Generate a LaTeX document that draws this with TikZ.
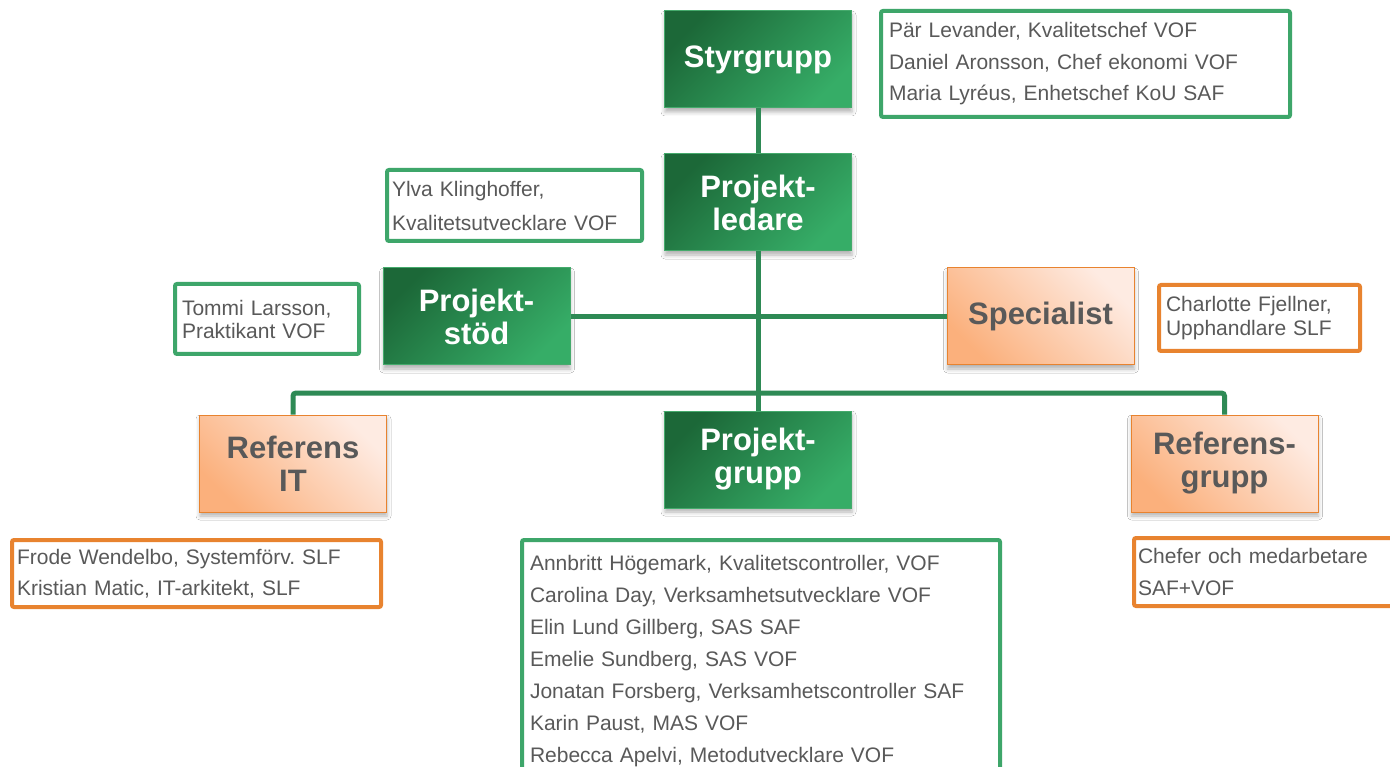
\documentclass[tikz,border=0pt]{standalone}
\usepackage{fontspec}
\setmainfont{Liberation Sans}
\usetikzlibrary{shadows.blur}
\definecolor{gdark}{HTML}{1C6838}
\definecolor{glight}{HTML}{36AD67}
\definecolor{gborder}{HTML}{45AA6C}
\definecolor{olight}{HTML}{FEEBE2}
\definecolor{odark}{HTML}{FBB07C}
\definecolor{oborder}{HTML}{E8832F}
\definecolor{infog}{HTML}{3EA66A}
\definecolor{txtgray}{HTML}{595959}
\definecolor{conn}{HTML}{2E8A55}
\frenchspacing
\begin{document}
\begin{tikzpicture}[x=1pt,y=-1pt,
  titlebox/.style={minimum width=187, minimum height=97, align=center,
    font=\bfseries\fontsize{31}{33}\selectfont, line width=1pt,
    blur shadow={shadow xshift=0.5pt, shadow yshift=-4pt, shadow blur radius=4pt, shadow opacity=30}},
  gbox/.style={titlebox, draw=gborder, top color=gdark, bottom color=glight, shading angle=45, text=white},
  obox/.style={titlebox, draw=oborder, top color=olight, bottom color=odark, shading angle=-45, text=txtgray},
  info/.style={line width=4pt, rounded corners=2pt, fill=white, align=left, inner ysep=0pt, text=txtgray},
  ginfo/.style={info, draw=infog},
  oinfo/.style={info, draw=oborder},
  connector/.style={draw=conn, line width=5pt}]
\useasboundingbox (0,0) rectangle (1390,767);
\fill[white] (0,0) rectangle (1390,767);

% title boxes
\node[gbox] (sty) at (758,59.5) {Styrgrupp};
\node[gbox] (pl) at (758,202.5) {Projekt-\\ledare};
\node[gbox] (ps) at (476.5,316.5) {Projekt-\\stöd};
\node[obox] (spec) at (1040.5,316.5) {Specialist};
\node[obox] (rit) at (293,463.5) {Referens\\IT};
\node[gbox] (pg) at (758,459.5) {Projekt-\\grupp};
\node[obox] (rg) at (1224.5,463.5) {Referens-\\grupp};

% info boxes
\node[ginfo, minimum width=409, minimum height=106, text width=393, inner xsep=8pt,
  font=\fontsize{21}{31.5}\selectfont] (sinfo) at (1085.5,64)
  {Pär Levander, Kvalitetschef VOF\\Daniel Aronsson, Chef ekonomi VOF\\Maria Lyréus, Enhetschef KoU SAF};
\node[ginfo, minimum width=255, minimum height=71, text width=245, inner xsep=5pt,
  font=\fontsize{21}{34}\selectfont] (ylva) at (514.5,205.5)
  {Ylva Klinghoffer,\\Kvalitetsutvecklare VOF};
\node[ginfo, minimum width=184, minimum height=70, text width=170, inner xsep=7pt,
  font=\fontsize{21}{23}\selectfont] (tommi) at (267,319)
  {Tommi Larsson,\\Praktikant VOF};
\node[oinfo, minimum width=201, minimum height=66, text width=187, inner xsep=7pt,
  font=\fontsize{21}{24}\selectfont] (charl) at (1259.5,318)
  {Charlotte Fjellner,\\Upphandlare SLF};
\node[oinfo, minimum width=369, minimum height=67, text width=359, inner xsep=5pt,
  font=\fontsize{21}{31}\selectfont] (frode) at (196.5,573.5)
  {Frode Wendelbo, Systemförv. SLF\\Kristian Matic, IT-arkitekt, SLF};
\node[oinfo, minimum width=264, minimum height=68, text width=256, inner xsep=4pt,
  font=\fontsize{21}{32}\selectfont] (chef) at (1266,572)
  {Chefer och medarbetare\\SAF+VOF};
\node[ginfo, minimum width=478, minimum height=242, text width=462, inner xsep=8pt,
  font=\fontsize{21}{32}\selectfont] (pgi) at (761,661)
  {Annbritt Högemark, Kvalitetscontroller, VOF\\Carolina Day, Verksamhetsutvecklare VOF\\Elin Lund Gillberg, SAS SAF\\Emelie Sundberg, SAS VOF\\Jonatan Forsberg, Verksamhetscontroller SAF\\Karin Paust, MAS VOF\\Rebecca Apelvi, Metodutvecklare VOF};

% connectors
\draw[connector] (sty.south) -- (pl.north);
\draw[connector] (pl.south) -- (pg.north);
\draw[connector] (ps.east) -- (spec.west);
\coordinate (busL) at (293,393);
\draw[connector, rounded corners=3pt] (rit.north) -- (busL) -| (rg.north);
\end{tikzpicture}
\end{document}
